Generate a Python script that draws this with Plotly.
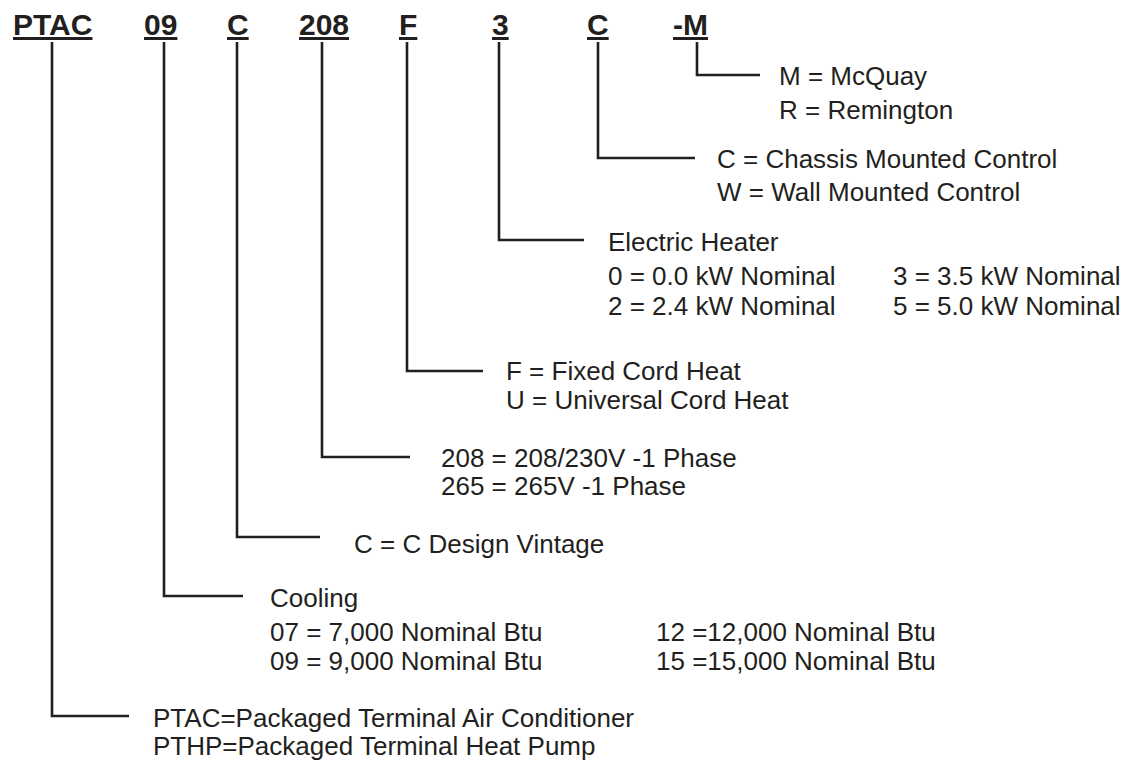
import plotly.graph_objects as go

# ---- content ----
codes = ["PTAC", "09", "C", "208", "F", "3", "C", "-M"]
descriptions = [
    ["PTAC=Packaged Terminal Air Conditioner", "PTHP=Packaged Terminal Heat Pump"],
    ["Cooling", "07 = 7,000 Nominal Btu", "09 = 9,000 Nominal Btu"],
    ["C = C Design Vintage"],
    ["208 = 208/230V -1 Phase", "265 = 265V -1 Phase"],
    ["F = Fixed Cord Heat", "U = Universal Cord Heat"],
    ["Electric Heater", "0 = 0.0 kW Nominal", "2 = 2.4 kW Nominal"],
    ["C = Chassis Mounted Control", "W = Wall Mounted Control"],
    ["M = McQuay", "R = Remington"],
]
second_col = [
    [],
    ["", "12 =12,000 Nominal Btu", "15 =15,000 Nominal Btu"],
    [], [], [],
    ["", "3 = 3.5 kW Nominal", "5 = 5.0 kW Nominal"],
    [], [],
]

# ---- layout positions (pixels of the 1139x771 page) ----
PAGE_W, PAGE_H = 1139, 771
BODY_MARGIN = 8  # default browser body margin around the plot div
code_text_x = [52.5, 160, 237.5, 323.5, 407.5, 500, 598, 690.5]
code_text_y = 24
line_x = [52, 164, 237, 322, 407, 499, 598, 697]
line_top = 42
corner_y = [716, 596, 537, 457, 371, 240, 158, 75]
branch_end = [129, 243, 320, 410, 483, 584, 695, 760]
text_x = [152, 269, 353, 440, 505, 607, 716, 778]
text_rows = [
    [718, 746],
    [598, 632, 661],
    [544],
    [458, 486],
    [371, 400],
    [242, 276, 306],
    [159, 192],
    [76, 110],
]
second_x = [None, 655, None, None, None, 892, None, None]

INK = "#231f20"
FONT = "Liberation Sans, Arial, Helvetica, sans-serif"

fig = go.Figure()

for i in range(len(codes)):
    fig.add_trace(go.Scatter(
        x=[line_x[i], line_x[i], branch_end[i]],
        y=[line_top, corner_y[i], corner_y[i]],
        mode="lines",
        line=dict(color=INK, width=2.6),
        hoverinfo="skip",
        showlegend=False,
    ))

annotations = []
for i, c in enumerate(codes):
    annotations.append(dict(
        x=code_text_x[i], y=code_text_y, xref="x", yref="y",
        text=f"<b><u>{c}</u></b>", showarrow=False,
        xanchor="center", yanchor="middle", borderpad=0,
        font=dict(family=FONT, size=30, color=INK),
    ))
    for j, t in enumerate(descriptions[i]):
        annotations.append(dict(
            x=text_x[i], y=text_rows[i][j], xref="x", yref="y",
            text=t, showarrow=False, xanchor="left", yanchor="middle",
            borderpad=0,
            font=dict(family=FONT, size=26, color=INK),
        ))
    for j, t in enumerate(second_col[i]):
        if t:
            annotations.append(dict(
                x=second_x[i], y=text_rows[i][j], xref="x", yref="y",
                text=t, showarrow=False, xanchor="left", yanchor="middle",
                borderpad=0,
                font=dict(family=FONT, size=26, color=INK),
            ))

fig_w = PAGE_W - 2 * BODY_MARGIN - 1
fig_h = PAGE_H - 2 * BODY_MARGIN - 1
fig.update_layout(
    width=fig_w, height=fig_h,
    margin=dict(l=0, r=0, t=0, b=0),
    paper_bgcolor="white", plot_bgcolor="white",
    xaxis=dict(range=[BODY_MARGIN, BODY_MARGIN + fig_w], visible=False, fixedrange=True),
    yaxis=dict(range=[BODY_MARGIN + fig_h, BODY_MARGIN], visible=False, fixedrange=True),
    annotations=annotations,
    showlegend=False,
)

fig.write_html("out.html", config={"displayModeBar": False})
